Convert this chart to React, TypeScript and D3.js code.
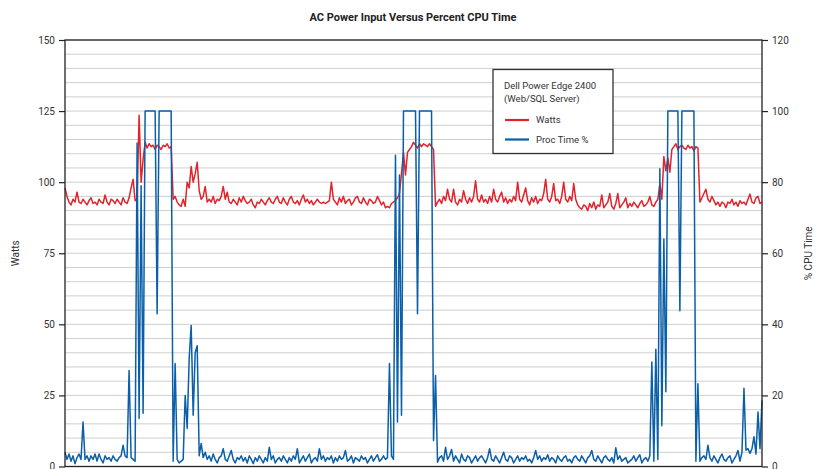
import { useEffect, useRef } from "react";
import * as d3 from "d3";

// AC power draw (watts), one sample per interval
const watts = [
  98, 95, 93, 92, 94, 93, 96.5, 93, 92.5, 94,
  93, 92, 93.5, 94.5, 92.5, 93, 92, 94, 93, 92.5,
  95.5, 93, 92, 94, 93.5, 92.5, 94, 93, 92, 94.5,
  93, 92.5, 94.5, 98, 101, 93.5, 94, 123.5, 100, 108,
  114, 112, 113.5, 112.5, 113, 111.5, 113, 112.5, 111.5, 113,
  112.5, 113.5, 112, 112.5, 94, 95, 93, 92, 91.5, 94,
  91.5, 100, 98, 105.5, 100, 103, 107, 97, 94, 95,
  98.5, 93, 94, 93, 95, 92.5, 94, 93.5, 95, 98.5,
  94, 96.5, 93, 92.5, 94, 93, 92, 94.5, 93, 95,
  93.5, 92.5, 93, 94, 92, 91, 93, 92.5, 94, 93,
  92, 93.5, 94.5, 93, 92.5, 94, 95, 93, 92.5, 94.5,
  93, 92, 94, 95, 93, 92.5, 93.5, 92, 94, 95.5,
  93, 94, 92.5, 93.5, 92, 93, 94, 93, 92.5, 93,
  92.5, 93, 93.5, 100, 94, 93, 92, 94.5, 93, 95,
  92.5, 93.5, 94, 92, 93, 94.5, 95, 93, 92.5, 94.5,
  93, 92, 94, 93.5, 92.5, 93, 95, 93.5, 92, 93,
  91, 91.5, 91, 92.5, 93, 93.5, 94.5, 96, 103, 110.5,
  102.5, 110.5, 111.5, 112.5, 114, 113, 112, 113.5, 112.5, 113.5,
  113, 112.5, 113.5, 112.5, 111.5, 91.5, 93, 94, 92.5, 95,
  93.5, 97.5, 94, 93, 97.5, 93, 92, 94, 93, 97,
  94, 92.5, 94.5, 93, 95, 100.5, 94, 93, 95.5, 93,
  94, 92.5, 95, 93, 97.5, 94, 93, 95, 96.5, 93,
  94.5, 92.5, 94, 93, 95, 93.5, 100, 94, 93, 95.5,
  98, 93.5, 92, 94.5, 93, 95, 92.5, 94, 93.5, 96,
  101, 94, 93, 95, 99.5, 93.5, 94, 92.5, 95, 100,
  94, 93, 95, 93.5, 99.5, 94, 92, 91, 90.5, 92,
  91.5, 90, 92.5, 91, 93, 90.5, 92, 91.5, 95.5, 91,
  92, 93, 96, 91.5, 90.5, 92.5, 96, 91, 92, 93,
  94.5, 91, 92.5, 91.5, 93, 92, 91, 92.5, 93.5, 91.5,
  92, 93, 95, 92, 91.5, 93, 94, 99.5, 94, 109,
  104, 108.5, 103.5, 111.5, 112.5, 113.5, 111.5, 112.5, 113, 112,
  111.5, 113, 112, 112.5, 111, 112.5, 112, 93, 94.5, 96,
  97.5, 94, 93, 95, 93.5, 92, 93, 91.5, 93, 92.5,
  91, 93, 92.5, 94, 92, 93, 91.5, 93.5, 92.5, 93,
  92, 94, 95.8, 93, 92.5, 94.5, 95, 92.5, 93,
];

// processor time (%), same intervals
const procTime = [
  4, 2, 3.5, 1.5, 3, 0.8, 2.5, 3.5, 2, 12.5,
  2, 3, 1.5, 3, 2, 3.5, 1.5, 3.5, 2, 1,
  3, 2, 2.5, 1.5, 3, 2, 1.5, 2.5, 3, 6,
  3, 2.5, 27, 2.5, 2, 1.5, 91, 13.5, 79, 15,
  100, 100, 100, 100, 100, 100, 43, 100, 100, 100,
  100, 100, 100, 100, 1.5, 29, 2, 1, 1.5, 2,
  20, 10.7, 30.4, 39.7, 14.4, 32, 34, 3, 6.5, 2.5,
  4, 2, 3, 1.5, 3.5, 2, 1, 2.5, 3, 5,
  2, 1.5, 3, 4.5, 2, 1, 2.5, 2, 3, 1.5,
  2.5, 1, 3, 2, 0.8, 2.5, 1.5, 3, 2, 1,
  2.5, 1.5, 5.4, 2, 3, 1, 2, 2.5, 1.5, 3,
  2, 1, 2.5, 1.5, 3, 2, 5, 1, 2, 3,
  1.5, 2.5, 3.5, 1, 2, 2.5, 1.5, 5, 2, 3,
  1.5, 2.5, 2, 3, 1, 2.5, 1.5, 3, 2, 2.5,
  4.5, 1.5, 2, 3, 1, 2.5, 2, 1.5, 3, 2,
  2.5, 1, 2, 3, 1.5, 2.5, 3.3, 1.5, 2, 3,
  2, 2.5, 29, 3, 2, 87.6, 12.5, 82, 14.4, 100,
  100, 100, 100, 100, 100, 100, 43, 100, 100, 100,
  100, 100, 100, 100, 7.3, 25.6, 1.2, 2.5, 3, 1.5,
  5.4, 2, 3, 4.8, 1.5, 3, 2, 1, 3.5, 2,
  1.5, 3, 2.5, 1, 2, 3, 1.5, 2.5, 3, 2,
  1, 2.5, 5, 2, 1.5, 3, 2, 1, 2.5, 4,
  2, 1.5, 3, 2.5, 1, 2, 3, 1.5, 2.5, 2,
  3, 1.5, 2, 1, 2.5, 4.5, 2, 3, 1.5, 2.5,
  2, 3.3, 1.5, 2.5, 2, 1, 3, 2, 1.5, 2.5,
  3, 1.5, 2, 1, 2.5, 3, 2, 1.5, 3, 2,
  1, 2.5, 3, 4.5, 2, 1.5, 3, 2, 1, 2.5,
  3, 2, 1.5, 2.5, 1, 5.3, 2, 3, 1.5, 2,
  2.5, 1, 1.5, 2, 3, 1.5, 2.5, 3.3, 1, 2,
  2.5, 1.5, 3, 29.4, 1.5, 33, 2, 83.8, 11.5, 64,
  21, 100, 100, 100, 100, 100, 100, 43.8, 100, 100,
  100, 100, 100, 100, 100, 1.5, 23.3, 1.5, 2.5, 3,
  2, 6, 2.5, 1.5, 3, 2, 1, 2.5, 3.5, 2,
  1.5, 2.5, 3, 1, 2, 3, 4.5, 1.5, 4, 22,
  4.6, 5, 3.7, 5, 8.4, 3.5, 15.3, 5, 18.6,
];

const wattTicks = [0, 25, 50, 75, 100, 125, 150];
const cpuTicks = [0, 20, 40, 60, 80, 100, 120];
const gridValues = d3.range(0, 151, 5);

const legendTitle = ["Dell Power Edge 2400", "(Web/SQL Server)"];
const seriesNames = ["Watts", "Proc Time %"];

const RED = "#e2232b";
const BLUE = "#0a5fa8";
const FONT = "Roboto, 'Liberation Sans', sans-serif";

export default function App() {
  const svgRef = useRef<SVGSVGElement>(null);

  useEffect(() => {
    if (!svgRef.current) return;

    const width = 825;
    const height = 469;
    const margin = { top: 40, right: 63, bottom: 2.5, left: 65 };
    const plotRight = width - margin.right;
    const plotBottom = height - margin.bottom;

    const svg = d3.select(svgRef.current);
    svg.selectAll("*").remove();

    const x = d3
      .scaleLinear()
      .domain([0, watts.length - 1])
      .range([margin.left, plotRight]);

    const yW = d3.scaleLinear().domain([0, 150]).range([plotBottom, margin.top]);
    const yP = d3.scaleLinear().domain([0, 120]).range([plotBottom, margin.top]);

    // gridlines
    svg
      .append("g")
      .selectAll("line")
      .data(gridValues)
      .join("line")
      .attr("x1", margin.left)
      .attr("x2", plotRight)
      .attr("y1", (d) => yW(d))
      .attr("y2", (d) => yW(d))
      .attr("stroke", "#cfcfcf")
      .attr("stroke-width", 1);

    // series
    const wattLine = d3
      .line<number>()
      .x((_, i) => x(i))
      .y((d) => yW(d));
    const procLine = d3
      .line<number>()
      .x((_, i) => x(i))
      .y((d) => yP(d));

    svg
      .append("path")
      .datum(watts)
      .attr("d", wattLine)
      .attr("fill", "none")
      .attr("stroke", RED)
      .attr("stroke-width", 1.5)
      .attr("stroke-linejoin", "round");

    svg
      .append("path")
      .datum(procTime)
      .attr("d", procLine)
      .attr("fill", "none")
      .attr("stroke", BLUE)
      .attr("stroke-width", 1.5)
      .attr("stroke-linejoin", "round");

    // frame
    svg
      .append("rect")
      .attr("x", margin.left)
      .attr("y", margin.top)
      .attr("width", plotRight - margin.left)
      .attr("height", plotBottom - margin.top)
      .attr("fill", "none")
      .attr("stroke", "#222")
      .attr("stroke-width", 1.3);

    // axes
    const left = svg
      .append("g")
      .attr("transform", `translate(${margin.left},0)`)
      .call(d3.axisLeft(yW).tickValues(wattTicks).tickSize(6).tickPadding(4));
    const right = svg
      .append("g")
      .attr("transform", `translate(${plotRight},0)`)
      .call(d3.axisRight(yP).tickValues(cpuTicks).tickSize(6).tickPadding(4));

    [left, right].forEach((g) => {
      g.select(".domain").remove();
      g.selectAll("line").attr("stroke", "#222").attr("stroke-width", 1.2);
      g.selectAll("text")
        .attr("fill", "#333")
        .style("font-family", FONT)
        .style("font-size", "10px");
    });

    // titles
    svg
      .append("text")
      .attr("x", 413)
      .attr("y", 21)
      .attr("text-anchor", "middle")
      .attr("fill", "#222")
      .style("font-family", FONT)
      .style("font-size", "11px")
      .style("font-weight", "bold")
      .text("AC Power Input Versus Percent CPU Time");

    svg
      .append("text")
      .attr("transform", `translate(19,${(margin.top + plotBottom) / 2}) rotate(-90)`)
      .attr("text-anchor", "middle")
      .attr("fill", "#333")
      .style("font-family", FONT)
      .style("font-size", "10px")
      .text("Watts");

    svg
      .append("text")
      .attr("transform", `translate(812,${(margin.top + plotBottom) / 2}) rotate(-90)`)
      .attr("text-anchor", "middle")
      .attr("fill", "#333")
      .style("font-family", FONT)
      .style("font-size", "10px")
      .text("% CPU Time");

    // legend
    const legend = svg.append("g").attr("transform", "translate(493,69.5)");
    legend
      .append("rect")
      .attr("width", 120)
      .attr("height", 84)
      .attr("fill", "#fff")
      .attr("stroke", "#333")
      .attr("stroke-width", 1.3);
    legend
      .selectAll("text.title")
      .data(legendTitle)
      .join("text")
      .attr("class", "title")
      .attr("x", 11)
      .attr("y", (_, i) => 19 + i * 13)
      .attr("fill", "#333")
      .style("font-family", FONT)
      .style("font-size", "9.5px")
      .text((d) => d);
    const items = legend
      .selectAll("g.item")
      .data(seriesNames)
      .join("g")
      .attr("class", "item")
      .attr("transform", (_, i) => `translate(0,${50.5 + i * 19.5})`);
    items
      .append("line")
      .attr("x1", 12)
      .attr("x2", 36)
      .attr("stroke", (_, i) => (i === 0 ? RED : BLUE))
      .attr("stroke-width", 2.2);
    items
      .append("text")
      .attr("x", 43)
      .attr("dy", "0.35em")
      .attr("fill", "#333")
      .style("font-family", FONT)
      .style("font-size", "9.5px")
      .text((d) => d);
  }, []);

  return (
    <svg
      ref={svgRef}
      width={825}
      height={469}
      style={{ position: "absolute", left: 0, top: 0, background: "#fff" }}
    ></svg>
  );
}
